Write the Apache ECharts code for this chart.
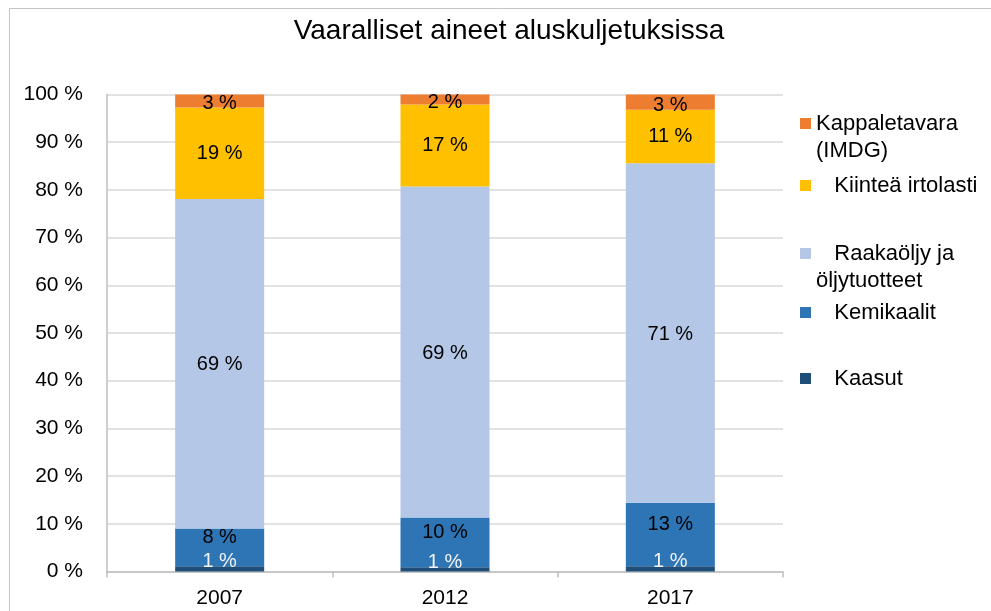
<!DOCTYPE html>
<html>
<head>
<meta charset="utf-8">
<title>Vaaralliset aineet aluskuljetuksissa</title>
<script src="https://cdn.jsdelivr.net/npm/echarts@6/dist/echarts.min.js"></script>
<style>
  html, body { margin: 0; padding: 0; background: #fff; }
  #chart { width: 991px; height: 611px; }
</style>
</head>
<body>
<div id="chart"></div>
<script>
// values (per cent of total, per year)
const categories = ['2007', '2012', '2017'];
const kaasut = [1.1, 0.9, 1.1];
const kemikaalit = [7.9, 10.4, 13.3];
const raakaoljy = [69.1, 69.4, 71.2];
const kiintea = [19.2, 17.2, 11.2];
const kappaletavara = [2.7, 2.1, 3.2];
const yTicks = [0, 10, 20, 30, 40, 50, 60, 70, 80, 90, 100];

const FONT = '"Liberation Sans", Arial, sans-serif';
const LH = 27;

// legend labels as they are written in the chart (wrapped, some indented).
// a leading empty line keeps the icon level with the first text line.
const legendText = {
  'Kappaletavara (IMDG)': '\nKappaletavara\n(IMDG)',
  'Kiinteä irtolasti': '   Kiinteä irtolasti',
  'Raakaöljy ja öljytuotteet': '\n   Raakaöljy ja\nöljytuotteet',
  'Kemikaalit': '   Kemikaalit',
  'Kaasut': '   Kaasut',
};

function pct(p) {
  return Math.round(p.value) + ' %';
}

function barSeries(name, data, color, labelColor, offset) {
  return {
    name,
    type: 'bar',
    stack: 'total',
    barWidth: '39.5%',
    itemStyle: { color },
    label: {
      show: true,
      position: 'inside',
      offset: [0, offset],
      color: labelColor,
      fontFamily: FONT,
      fontSize: 20,
      formatter: pct,
    },
    emphasis: { disabled: true },
    data,
  };
}

function legendAt(name, top) {
  return {
    data: [name],
    left: 800,
    top,
    padding: 0,
    icon: 'rect',
    itemWidth: 11,
    itemHeight: 11,
    selectedMode: false,
    formatter: (n) => legendText[n],
    textStyle: {
      fontFamily: FONT,
      fontSize: 22,
      color: '#000',
      lineHeight: LH,
    },
  };
}

const option = {
  animation: false,
  backgroundColor: '#fff',
  title: {
    text: 'Vaaralliset aineet aluskuljetuksissa',
    left: 504,
    textAlign: 'center',
    top: 12,
    textStyle: {
      fontFamily: FONT,
      fontSize: 28,
      fontWeight: 'normal',
      color: '#000',
    },
  },
  graphic: [
    {
      type: 'rect',
      shape: { x: 9.5, y: 8.5, width: 1000, height: 700 },
      style: { fill: 'none', stroke: '#c4c4c4', lineWidth: 1 },
      silent: true,
    },
  ],
  legend: [
    legendAt('Kappaletavara (IMDG)', 83),
    legendAt('Kiinteä irtolasti', 172),
    legendAt('Raakaöljy ja öljytuotteet', 213),
    legendAt('Kemikaalit', 299),
    legendAt('Kaasut', 365),
  ],
  grid: {
    left: 107,
    right: 208,
    top: 94.5,
    bottom: 39.5,
    containLabel: false,
    outerBoundsMode: 'none',
  },
  xAxis: {
    type: 'category',
    data: categories,
    axisLine: { show: true, lineStyle: { color: '#bfbfbf', width: 1.5 } },
    axisTick: { show: true, length: 6, lineStyle: { color: '#bfbfbf', width: 1.5 } },
    axisLabel: {
      color: '#000',
      fontFamily: FONT,
      fontSize: 21,
      margin: 16,
    },
  },
  yAxis: {
    type: 'value',
    min: yTicks[0],
    max: yTicks[yTicks.length - 1],
    interval: 10,
    axisLine: { show: true, lineStyle: { color: '#bfbfbf', width: 1.5 } },
    axisTick: { show: false },
    splitLine: { lineStyle: { color: '#d9d9d9', width: 1.5 } },
    axisLabel: {
      color: '#000',
      fontFamily: FONT,
      fontSize: 21,
      margin: 24,
      formatter: '{value} %',
    },
  },
  series: [
    barSeries('Kaasut', kaasut, '#1f4e79', '#f2f2f2', -7),
    barSeries('Kemikaalit', kemikaalit, '#2e75b6', '#000', -10),
    barSeries('Raakaöljy ja öljytuotteet', raakaoljy, '#b4c7e7', '#000', 1),
    barSeries('Kiinteä irtolasti', kiintea, '#ffc000', '#000', 0),
    barSeries('Kappaletavara (IMDG)', kappaletavara, '#ed7d31', '#000', 3),
  ],
};

const myChart = echarts.init(document.getElementById('chart'));
myChart.setOption(option);
</script>
</body>
</html>
